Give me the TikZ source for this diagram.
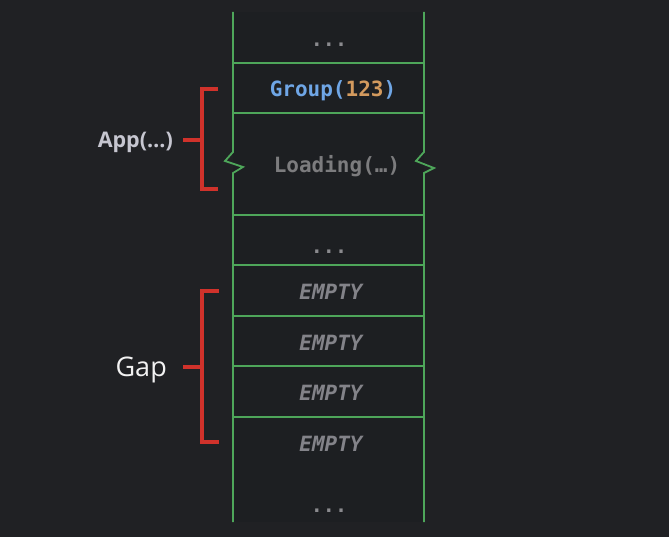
\documentclass[tikz,border=0pt]{standalone}
\usepackage{fontspec}
\setmainfont{Open Sans}
\newfontfamily\codefont{DejaVu Sans Mono}
\newfontfamily\labelfont{Open Sans}
\definecolor{bgdark}{HTML}{202124}
\definecolor{cellfill}{HTML}{1D1F22}
\definecolor{rowline}{HTML}{4EA65A}
\definecolor{bracketred}{HTML}{D0322B}
\definecolor{groupblue}{HTML}{6FA6E6}
\definecolor{numorange}{HTML}{D39A5E}
\definecolor{dimgray}{HTML}{7C7C7E}
\definecolor{dotgray}{HTML}{8A8A8E}
\definecolor{emptygray}{HTML}{838389}
\definecolor{appgray}{HTML}{C6C6D0}
\definecolor{gapwhite}{HTML}{F2F2F2}
\tikzset{
  x=1pt, y=-1pt,
  rowrule/.style={draw=rowline, line width=1.8pt},
  bracket/.style={draw=bracketred, line width=3.6pt},
  code/.style={font=\codefont\bfseries\fontsize{21}{25}\selectfont, inner sep=0pt},
  emptycell/.style={code, font=\codefont\bfseries\itshape\fontsize{21}{25}\selectfont, text=emptygray},
  dots/.style={code, font=\codefont\bfseries\fontsize{20}{24}\selectfont, text=dotgray},
  sidelabel/.style={inner sep=0pt, anchor=east},
}
\begin{document}
\begin{tikzpicture}
  % canvas
  \fill[bgdark] (0,0) rectangle (669,537);
  \useasboundingbox (0,0) rectangle (669,537);

  % column interior
  \fill[cellfill] (233,12) rectangle (424,522);

  % column borders, broken by a zigzag at the loading row
  \draw[rowrule, line join=miter] (233,12) -- (233,152) -- (225,161) -- (243,167) -- (233,173) -- (233,522);
  \draw[rowrule, line join=miter] (424,12) -- (424,152) -- (416,161) -- (434,168) -- (424,173) -- (424,522);

  % row separators
  \foreach \yy in {63,113,215,265,316,366,417}
    \draw[rowrule] (233,\yy) -- (424,\yy);

  % cell contents
  \node[dots]  (dotsTop) at (329,45) {...};
  \node[code]  (group)   at (333,91) {\textcolor{groupblue}{Group(}\textcolor{numorange}{123}\textcolor{groupblue}{)}};
  \node[code, text=dimgray] (loading) at (337,166) {Loading(…)};
  \node[dots]  (dotsMid) at (329,252) {...};
  \node[emptycell] (e1) at (331,292) {EMPTY};
  \node[emptycell] (e2) at (331,343) {EMPTY};
  \node[emptycell] (e3) at (331,393) {EMPTY};
  \node[emptycell] (e4) at (331,444) {EMPTY};
  \node[dots]  (dotsBot) at (329,511) {...};

  % App bracket
  \coordinate (appTop) at (218,89);
  \coordinate (appBot) at (218,189);
  \coordinate (appMid) at (202,140);
  \coordinate (appTip) at (183,140);
  \draw[bracket, line cap=butt, line join=miter] (appTop) -- (202,89) -- (202,189) -- (appBot);
  \draw[bracket] (appMid) -- (appTip);
  \node[sidelabel, font=\labelfont\bfseries\fontsize{21.5}{26}\selectfont, text=appgray] (app) at (173,142) {App(…)};

  % Gap bracket
  \coordinate (gapTop) at (219,291);
  \coordinate (gapBot) at (219,442);
  \coordinate (gapMid) at (202,367);
  \coordinate (gapTip) at (183,367);
  \draw[bracket, line cap=butt, line join=miter] (gapTop) -- (202,291) -- (202,442) -- (gapBot);
  \draw[bracket] (gapMid) -- (gapTip);
  \node[sidelabel, font=\labelfont\fontsize{27}{32}\selectfont, text=gapwhite] (gap) at (167,370) {Gap};
\end{tikzpicture}
\end{document}
